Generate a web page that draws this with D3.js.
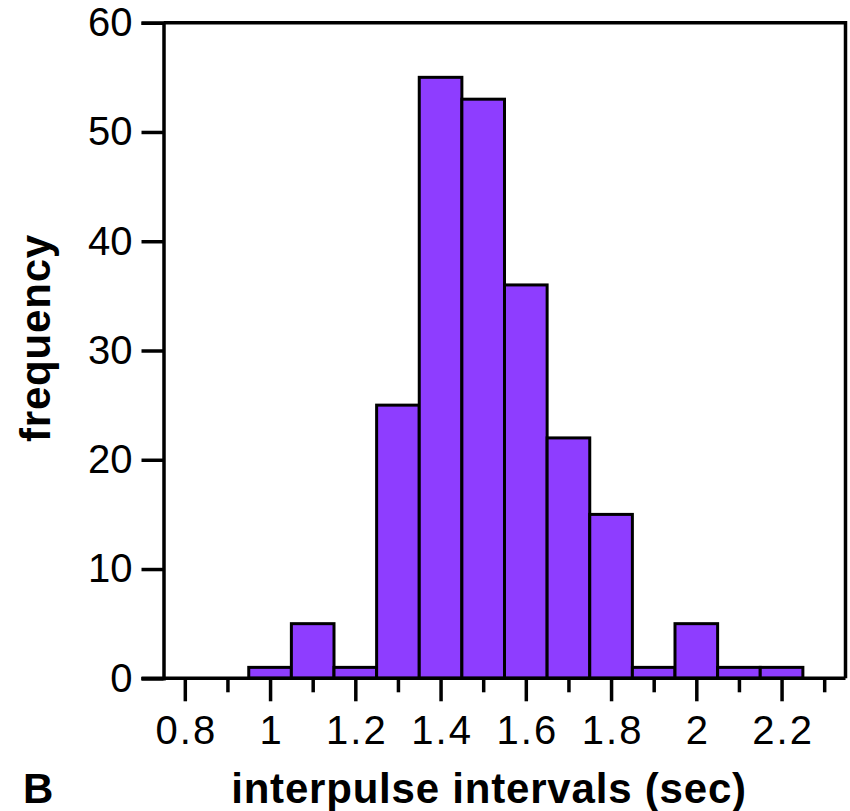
<!DOCTYPE html>
<html>
<head>
<meta charset="utf-8">
<script src="https://cdn.jsdelivr.net/npm/d3@7"></script>
<style>
  html, body { margin: 0; padding: 0; background: #fff; }
  svg { display: block; font-family: "Liberation Sans", Arial, Helvetica, sans-serif; }
</style>
</head>
<body>
<svg id="chart" width="850" height="811"></svg>
<script>
// Data
const binCenters = [1.0, 1.1, 1.2, 1.3, 1.4, 1.5, 1.6, 1.7, 1.8, 1.9, 2.0, 2.1, 2.2];
const frequencies = [1, 5, 1, 25, 55, 53, 36, 22, 15, 1, 5, 1, 1];
const binWidth = 0.1;
const xMajorTicks = [0.8, 1.0, 1.2, 1.4, 1.6, 1.8, 2.0, 2.2];
const xMinorTicks = [0.9, 1.1, 1.3, 1.5, 1.7, 1.9, 2.1, 2.3];
const yTicks = [0, 10, 20, 30, 40, 50, 60];
const xTitle = "interpulse intervals (sec)";
const yTitle = "frequency";
const panelLabel = "B";

const svg = d3.select("#chart");
const mLeft = 163.5, mRight = 845.5, mTop = 22.7, mBottom = 678.3;

const x = d3.scaleLinear().domain([0.75, 2.35]).range([mLeft, mRight]);
const y = d3.scaleLinear().domain([0, 60]).range([mBottom, mTop]);

const barColor = "#8E3DFF";

// Bars
svg.append("g").selectAll("rect").data(binCenters).join("rect")
  .attr("x", (d) => x(d - binWidth / 2))
  .attr("width", (d) => x(d + binWidth / 2) - x(d - binWidth / 2))
  .attr("y", (d, i) => y(frequencies[i]))
  .attr("height", (d, i) => y(0) - y(frequencies[i]))
  .attr("fill", barColor)
  .attr("stroke", "#000")
  .attr("stroke-width", 3);

// Frame (top and right)
svg.append("path")
  .attr("d", `M${mLeft},${mTop}H${mRight}V${mBottom}`)
  .attr("fill", "none").attr("stroke", "#000").attr("stroke-width", 3.5);

// Y axis
const yAxis = d3.axisLeft(y).tickValues(yTicks).tickSize(22).tickPadding(9)
  .tickFormat(d3.format("d"));
const gy = svg.append("g").attr("transform", `translate(${mLeft},0)`).call(yAxis);
gy.select(".domain").attr("stroke-width", 3.5);
gy.selectAll(".tick line").attr("stroke-width", 3.5);
gy.selectAll(".tick text").attr("font-size", 40).attr("fill", "#000")
  .attr("font-family", "Liberation Sans, Arial, sans-serif");

// X axis major
const xAxis = d3.axisBottom(x).tickValues(xMajorTicks).tickSize(23).tickPadding(14)
  .tickFormat((d) => String(+d.toFixed(1)));
const gx = svg.append("g").attr("transform", `translate(0,${mBottom})`).call(xAxis);
gx.select(".domain").attr("d", `M${mLeft - 22},0H${mRight}`).attr("stroke-width", 3.5);
gx.selectAll(".tick line").attr("stroke-width", 3.5);
gx.selectAll(".tick text").attr("font-size", 40).attr("fill", "#000")
  .attr("letter-spacing", "2px").attr("dx", "1px")
  .attr("font-family", "Liberation Sans, Arial, sans-serif");

// X axis minor
const xMinor = d3.axisBottom(x).tickValues(xMinorTicks).tickSize(14).tickFormat("");
const gxm = svg.append("g").attr("transform", `translate(0,${mBottom})`).call(xMinor);
gxm.select(".domain").remove();
gxm.selectAll(".tick line").attr("stroke-width", 3.5);

// Titles
svg.append("text")
  .attr("x", 489).attr("y", 803)
  .attr("text-anchor", "middle")
  .attr("font-size", 42).attr("font-weight", "bold")
  .attr("letter-spacing", "0.8px")
  .text(xTitle);

svg.append("text")
  .attr("transform", "translate(50,338) rotate(-90)")
  .attr("text-anchor", "middle")
  .attr("font-size", 42).attr("font-weight", "bold")
  .attr("letter-spacing", "0.8px")
  .text(yTitle);

svg.append("text")
  .attr("x", 23).attr("y", 803)
  .attr("font-size", 42).attr("font-weight", "bold")
  .text(panelLabel);
</script>
</body>
</html>
